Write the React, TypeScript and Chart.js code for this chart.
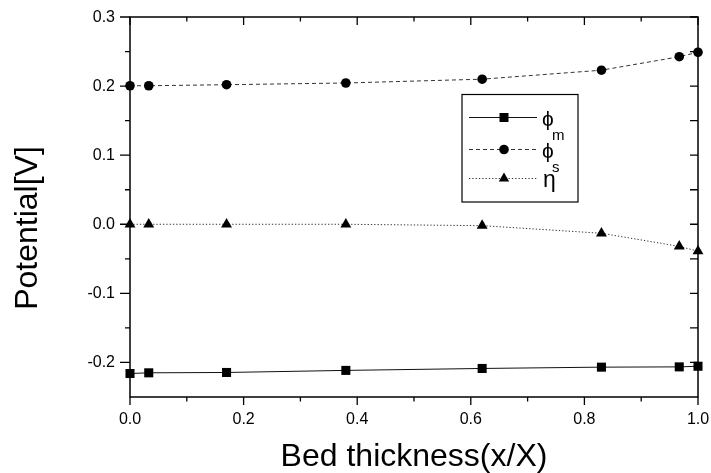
import React, { useEffect, useRef } from 'react';
import { Chart, registerables } from 'chart.js';

Chart.register(...registerables);

// ---- data ----
const xPositions = [0, 0.033, 0.17, 0.38, 0.62, 0.83, 0.967, 1.0];
const phiM = [-0.216, -0.215, -0.2145, -0.2115, -0.2087, -0.2068, -0.2064, -0.2055];
const phiS = [0.2005, 0.2005, 0.202, 0.2045, 0.21, 0.223, 0.2425, 0.249];
const eta = [0, 0, 0, 0, -0.002, -0.013, -0.032, -0.039];

const xMajorTicks = [0, 0.2, 0.4, 0.6, 0.8, 1.0];
const xTickLabels = ['0.0', '0.2', '0.4', '0.6', '0.8', '1.0'];
const xMinorTicks = [0.1, 0.3, 0.5, 0.7, 0.9];
const yMajorTicks = [0.3, 0.2, 0.1, 0, -0.1, -0.2];
const yTickLabels = ['0.3', '0.2', '0.1', '0.0', '-0.1', '-0.2'];
const yMinorTicks = [0.25, 0.15, 0.05, -0.05, -0.15];

const xTitle = 'Bed thickness(x/X)';
const yTitle = 'Potential[V]';
const legendMain = ['\u03D5', '\u03D5', '\u03B7'];
const legendSub = ['m', 's', ''];

const FONT = '"Liberation Sans", Arial, Helvetica, sans-serif';

const axesPlugin = {
  id: 'originAxes',
  beforeDatasetsDraw(chart: any) {
    const { ctx, chartArea: a, scales } = chart;
    const xs = scales.x;
    const ys = scales.y;
    ctx.save();
    ctx.strokeStyle = '#000';
    ctx.fillStyle = '#000';
    ctx.lineWidth = 1.5;
    ctx.strokeRect(a.left, a.top, a.right - a.left, a.bottom - a.top);

    const major = 8;
    const minor = 4.5;
    ctx.lineWidth = 1.3;
    ctx.beginPath();
    xMajorTicks.forEach((v) => {
      const p = xs.getPixelForValue(v);
      ctx.moveTo(p, a.bottom); ctx.lineTo(p, a.bottom + major);
      ctx.moveTo(p, a.top); ctx.lineTo(p, a.top + major);
    });
    xMinorTicks.forEach((v) => {
      const p = xs.getPixelForValue(v);
      ctx.moveTo(p, a.bottom); ctx.lineTo(p, a.bottom + minor);
      ctx.moveTo(p, a.top); ctx.lineTo(p, a.top + minor);
    });
    yMajorTicks.forEach((v) => {
      const p = ys.getPixelForValue(v);
      ctx.moveTo(a.left, p); ctx.lineTo(a.left - 10, p);
      ctx.moveTo(a.right, p); ctx.lineTo(a.right - major, p);
    });
    yMinorTicks.forEach((v) => {
      const p = ys.getPixelForValue(v);
      ctx.moveTo(a.left, p); ctx.lineTo(a.left - 5, p);
      ctx.moveTo(a.right, p); ctx.lineTo(a.right - major, p);
    });
    ctx.stroke();

    ctx.font = `16px ${FONT}`;
    ctx.textAlign = 'center';
    ctx.textBaseline = 'alphabetic';
    xMajorTicks.forEach((v, i) => {
      ctx.fillText(xTickLabels[i], xs.getPixelForValue(v), a.bottom + 26.5);
    });
    ctx.textAlign = 'right';
    ctx.textBaseline = 'middle';
    yMajorTicks.forEach((v, i) => {
      ctx.fillText(yTickLabels[i], a.left - 15, ys.getPixelForValue(v) + 0.5);
    });

    ctx.font = `32px ${FONT}`;
    ctx.textAlign = 'center';
    ctx.textBaseline = 'alphabetic';
    ctx.fillText(xTitle, (a.left + a.right) / 2, 466);
    ctx.save();
    ctx.translate(37, 228);
    ctx.rotate(-Math.PI / 2);
    ctx.fillText(yTitle, 0, 0);
    ctx.restore();
    ctx.restore();
  },
};

function drawMarker(ctx: any, kind: string, x: number, y: number) {
  ctx.beginPath();
  if (kind === 'rect') {
    ctx.rect(x - 4.5, y - 4.5, 9, 9);
  } else if (kind === 'circle') {
    ctx.arc(x, y, 4.8, 0, Math.PI * 2);
  } else {
    const r = 6;
    ctx.moveTo(x, y - r);
    ctx.lineTo(x + r * Math.sin(Math.PI / 3), y + r / 2);
    ctx.lineTo(x - r * Math.sin(Math.PI / 3), y + r / 2);
    ctx.closePath();
  }
  ctx.fill();
}

const legendPlugin = {
  id: 'customLegend',
  afterDatasetsDraw(chart: any) {
    const { ctx } = chart;
    const box = { l: 462, t: 94.5, r: 578, b: 202 };
    ctx.save();
    ctx.fillStyle = '#fff';
    ctx.fillRect(box.l, box.t, box.r - box.l, box.b - box.t);
    ctx.strokeStyle = '#000';
    ctx.lineWidth = 1.2;
    ctx.strokeRect(box.l, box.t, box.r - box.l, box.b - box.t);

    const rows = [117.5, 149.5, 178.5];
    const dsets = chart.data.datasets;
    const kinds = ['rect', 'circle', 'triangle'];
    rows.forEach((ry, i) => {
      const ds = dsets[i];
      ctx.strokeStyle = ds.borderColor;
      ctx.lineWidth = ds.borderWidth;
      ctx.setLineDash(ds.borderDash || []);
      ctx.beginPath();
      ctx.moveTo(469, ry);
      ctx.lineTo(537, ry);
      ctx.stroke();
      ctx.setLineDash([]);
      ctx.fillStyle = '#000';
      drawMarker(ctx, kinds[i], 504, ry);

      ctx.textAlign = 'left';
      ctx.textBaseline = 'alphabetic';
      if (i < 2) {
        ctx.font = `21px ${FONT}`;
        ctx.fillText(legendMain[i], 542, ry + 8);
        ctx.font = `15px ${FONT}`;
        ctx.fillText(legendSub[i], 552, ry + 22);
      } else {
        ctx.font = `23px ${FONT}`;
        ctx.fillText(legendMain[i], 543, ry + 8);
      }
    });
    ctx.restore();
  },
};

export default function App() {
  const canvasRef = useRef<HTMLCanvasElement | null>(null);

  useEffect(() => {
    document.body.style.margin = '0';
    const canvas = canvasRef.current;
    if (!canvas) return;
    const mk = (vals: number[]) => xPositions.map((x, i) => ({ x, y: vals[i] }));
    const chart = new Chart(canvas, {
      type: 'scatter',
      data: {
        datasets: [
          {
            label: 'phi_m',
            data: mk(phiM),
            showLine: true,
            borderColor: '#111',
            borderWidth: 1,
            borderDash: [],
            pointStyle: 'rect',
            pointRadius: 6.4,
            pointBackgroundColor: '#000',
            pointBorderColor: '#000',
            pointBorderWidth: 0,
            clip: false,
          },
          {
            label: 'phi_s',
            data: mk(phiS),
            showLine: true,
            borderColor: '#333',
            borderWidth: 1,
            borderDash: [4, 3],
            pointStyle: 'circle',
            pointRadius: 4.8,
            pointBackgroundColor: '#000',
            pointBorderColor: '#000',
            pointBorderWidth: 0,
            clip: false,
          },
          {
            label: 'eta',
            data: mk(eta),
            showLine: true,
            borderColor: '#333',
            borderWidth: 1,
            borderDash: [1.3, 2],
            pointStyle: 'triangle',
            pointRadius: 6.3,
            pointBackgroundColor: '#000',
            pointBorderColor: '#000',
            pointBorderWidth: 0,
            clip: false,
          },
        ],
      } as any,
      options: {
        responsive: false,
        animation: false,
        events: [],
        layout: { padding: { left: 130, right: 13, top: 17, bottom: 76 } },
        scales: {
          x: { type: 'linear', min: 0, max: 1, display: false },
          y: { type: 'linear', min: -0.25, max: 0.3, display: false },
        },
        plugins: {
          legend: { display: false },
          tooltip: { enabled: false },
        },
      } as any,
      plugins: [axesPlugin, legendPlugin],
    });
    return () => chart.destroy();
  }, []);

  return (
    <div style={{ position: 'fixed', left: 0, top: 0, width: 711, height: 473, background: '#fff' }}>
      <canvas ref={canvasRef} width={711} height={473} style={{ display: 'block', width: 711, height: 473 }} />
    </div>
  );
}
